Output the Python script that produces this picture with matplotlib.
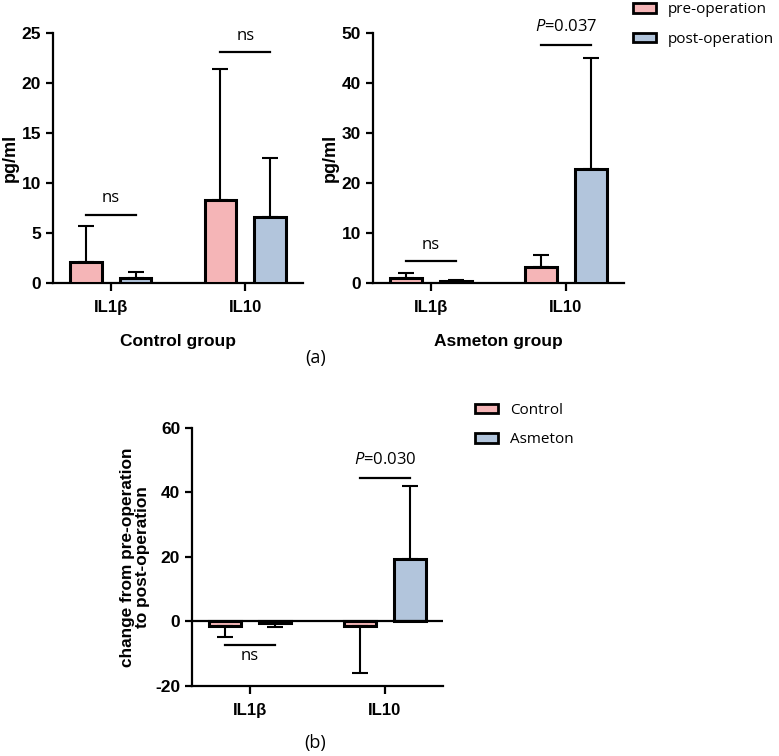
import numpy as np
import matplotlib
matplotlib.use("Agg")
import matplotlib.pyplot as plt
from matplotlib.patches import Patch

plt.rcParams['font.family'] = ['Liberation Sans', 'DejaVu Sans']
plt.rcParams['axes.unicode_minus'] = False
plt.rcParams['mathtext.fontset'] = 'custom'
plt.rcParams['mathtext.it'] = 'Open Sans:italic'
plt.rcParams['mathtext.rm'] = 'Open Sans'

# data (mean and one-sided SD)
cytokines = ["IL1\u03b2", "IL10"]
control_pre = [2.1, 8.3]
control_pre_sd = [3.6, 13.1]
control_post = [0.5, 6.6]
control_post_sd = [0.55, 5.9]
asmeton_pre = [1.0, 3.1]
asmeton_pre_sd = [1.0, 2.5]
asmeton_post = [0.3, 22.8]
asmeton_post_sd = [0.3, 22.2]
change_control = [-1.5, -1.5]
change_control_sd = [3.3, 14.5]
change_asmeton = [-0.5, 19.5]
change_asmeton_sd = [1.3, 22.5]

pink = "#F5B5B7"
blue = "#B2C5DC"
x = np.arange(len(cytokines))
off = 0.185
w = 0.235
txtfont = ["Open Sans", "DejaVu Sans"]

fig = plt.figure(figsize=(7.79, 7.56), dpi=100)
ax1 = fig.add_axes([0.068, 0.6257, 0.321, 0.3306])
ax2 = fig.add_axes([0.4788, 0.6257, 0.3222, 0.3306])
ax3 = fig.add_axes([0.2465, 0.0926, 0.3222, 0.3413])


def sided(vals, sds):
    # error bar only away from zero
    lo = [s if v < 0 else 0 for v, s in zip(vals, sds)]
    hi = [s if v >= 0 else 0 for v, s in zip(vals, sds)]
    return [lo, hi]


def bars(ax, a, a_sd, b, b_sd):
    ek = dict(elinewidth=1.5, capsize=6, capthick=1.5, ecolor="black")
    ax.bar(x - off, a, w, yerr=sided(a, a_sd), color=pink, edgecolor="black",
           linewidth=2.2, error_kw=ek, zorder=3)
    ax.bar(x + off, b, w, yerr=sided(b, b_sd), color=blue, edgecolor="black",
           linewidth=2.2, error_kw=ek, zorder=3)


def style(ax):
    for s in ["top", "right"]:
        ax.spines[s].set_visible(False)
    for s in ["left", "bottom"]:
        ax.spines[s].set_linewidth(1.6)
    ax.set_xlim(-0.43, 1.43)
    ax.set_xticks(x)
    ax.set_xticklabels(cytokines, fontsize=12, fontweight="bold")
    ax.tick_params(width=1.6, length=5, labelsize=12.5)
    ax.tick_params(axis="x", length=6, pad=6, labelsize=12)
    for t in ax.get_yticklabels():
        t.set_fontweight("bold")


def bracket(ax, i, y, label, ty):
    ax.plot([i - off, i + off], [y, y], color="black", lw=1.6, zorder=4)
    ax.text(i, ty, label, ha="center", va="center", fontsize=12, family=txtfont)


def legend(labels, anchor):
    handles = [Patch(facecolor=pink, edgecolor="black", linewidth=2),
               Patch(facecolor=blue, edgecolor="black", linewidth=2)]
    fig.legend(handles, labels, loc="upper left", bbox_to_anchor=anchor,
               frameon=False, borderpad=0, borderaxespad=0, handlelength=1.5,
               handleheight=0.6, handletextpad=0.8, labelspacing=0.95,
               prop={"family": txtfont, "size": 11})


# (a) control group
bars(ax1, control_pre, control_pre_sd, control_post, control_post_sd)
style(ax1)
ax1.set_ylim(0, 25)
ax1.set_yticks([0, 5, 10, 15, 20, 25])
ax1.set_ylabel("pg/ml", fontsize=13, fontweight="bold", labelpad=2)
ax1.set_xlabel("Control group", fontsize=12.5, fontweight="bold", labelpad=14)
bracket(ax1, 0, 6.8, "ns", 8.5)
bracket(ax1, 1, 23.1, "ns", 24.7)

# (a) asmeton group
bars(ax2, asmeton_pre, asmeton_pre_sd, asmeton_post, asmeton_post_sd)
style(ax2)
ax2.set_ylim(0, 50)
ax2.set_yticks([0, 10, 20, 30, 40, 50])
ax2.set_ylabel("pg/ml", fontsize=13, fontweight="bold", labelpad=2)
ax2.set_xlabel("Asmeton group", fontsize=12.5, fontweight="bold", labelpad=14)
bracket(ax2, 0, 4.4, "ns", 7.6)
bracket(ax2, 1, 47.6, "$P$=0.037", 51.2)
legend(["pre-operation", "post-operation"], (0.8126, 0.997))

# (b) change
bars(ax3, change_control, change_control_sd, change_asmeton, change_asmeton_sd)
style(ax3)
ax3.set_ylim(-20, 60)
ax3.set_yticks([-20, 0, 20, 40, 60])
ax3.axhline(0, color="black", lw=1.6, zorder=4)
ax3.set_ylabel("change from pre-operation\nto post-operation", fontsize=12.4,
               fontweight="bold", linespacing=1.0)
bracket(ax3, 0, -7.3, "ns", -10.6)
bracket(ax3, 1, 44.6, "$P$=0.030", 50.2)
legend(["Control", "Asmeton"], (0.6098, 0.467))

fig.text(0.405, 0.527, "(a)", ha="center", va="center", fontsize=13,
         family=txtfont)
fig.text(0.405, 0.017, "(b)", ha="center", va="center", fontsize=13,
         family=txtfont)

fig.savefig("out.png", dpi=100)
